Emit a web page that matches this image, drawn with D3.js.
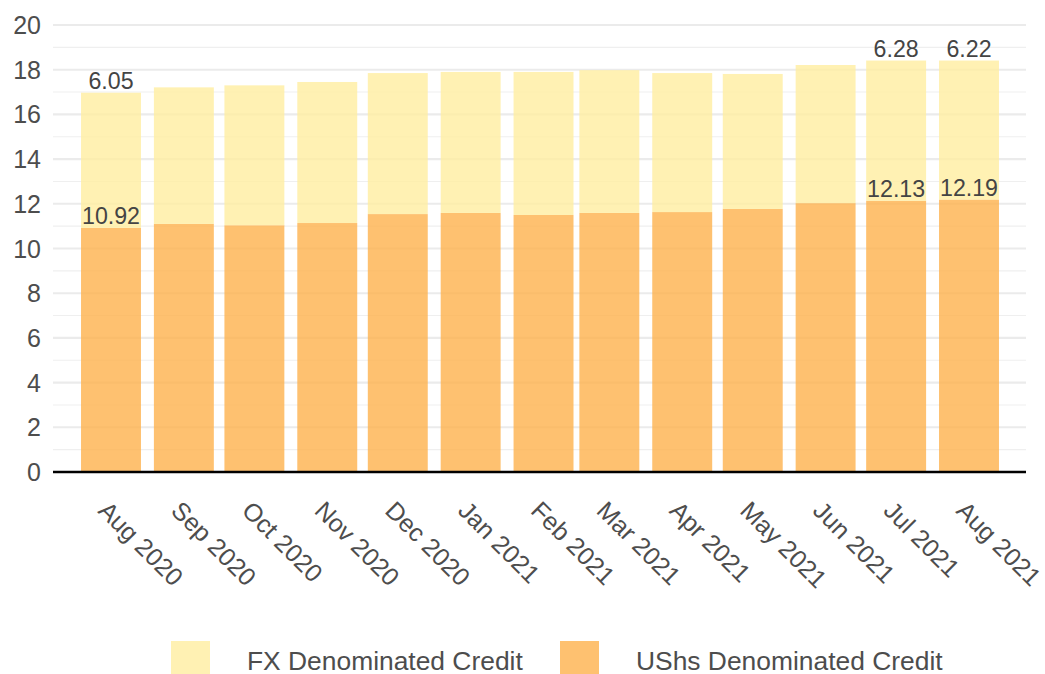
<!DOCTYPE html>
<html>
<head>
<meta charset="utf-8">
<script src="https://cdn.jsdelivr.net/npm/d3@7"></script>
<style>
  html, body { margin: 0; padding: 0; background: #fff; }
  svg { display: block; font-family: "Liberation Sans", Arial, sans-serif; }
</style>
</head>
<body>
<svg id="chart" width="1045" height="674"></svg>
<script>
// ---- data ----
const months = ["2020-08", "2020-09", "2020-10", "2020-11", "2020-12", "2021-01", "2021-02",
                "2021-03", "2021-04", "2021-05", "2021-06", "2021-07", "2021-08"];
const monthLabels = ["Aug 2020", "Sep 2020", "Oct 2020", "Nov 2020", "Dec 2020", "Jan 2021", "Feb 2021",
                     "Mar 2021", "Apr 2021", "May 2021", "Jun 2021", "Jul 2021", "Aug 2021"];
const ushsCredit = [10.92, 11.10, 11.04, 11.14, 11.54, 11.59, 11.50, 11.59, 11.63, 11.77, 12.03, 12.13, 12.19];
const fxCredit   = [6.05, 6.11, 6.26, 6.31, 6.31, 6.31, 6.40, 6.39, 6.22, 6.04, 6.18, 6.28, 6.22];
const labelledIdx = [0, 11, 12];
const yTicks = [0, 2, 4, 6, 8, 10, 12, 14, 16, 18, 20];
const seriesNames = ["FX Denominated Credit", "UShs Denominated Credit"];

// ---- layout ----
const colors = { fx: "#FFEDA0", ushs: "#FEB24C" };
const barOpacity = 0.8;
const plotLeft = 53, plotRight = 1026, yBottom = 472, yTop = 25;
const parse = d3.timeParse("%Y-%m");
const dates = months.map(parse);

const x = d3.scaleTime().domain([dates[0], dates[dates.length - 1]]).range([111, 969]);
const y = d3.scaleLinear().domain([0, 20]).range([yBottom, yTop]);
const dayPx = (x(dates[dates.length - 1]) - x(dates[0])) / 365;
const barW = 25.5 * dayPx;

const svg = d3.select("#chart");
const textColor = "#4d4d4d";

// gridlines
const minor = d3.range(1, 20, 2);
svg.append("g").selectAll("line").data(minor).join("line")
  .attr("x1", plotLeft).attr("x2", plotRight)
  .attr("y1", d => y(d)).attr("y2", d => y(d))
  .attr("stroke", "#efefef").attr("stroke-width", 1.1);
svg.append("g").selectAll("line").data(yTicks.filter(d => d > 0)).join("line")
  .attr("x1", plotLeft).attr("x2", plotRight)
  .attr("y1", d => y(d)).attr("y2", d => y(d))
  .attr("stroke", "#ebebeb").attr("stroke-width", 2.1);

// data rows
const rows = dates.map((d, i) => ({ date: d, label: monthLabels[i], ushs: ushsCredit[i], fx: fxCredit[i], i }));

// bars
const gBars = svg.append("g");
gBars.selectAll("rect.ushs").data(rows).join("rect")
  .attr("class", "ushs")
  .attr("x", d => x(d.date) - barW / 2).attr("width", barW)
  .attr("y", d => y(d.ushs)).attr("height", d => y(0) - y(d.ushs))
  .attr("fill", colors.ushs).attr("fill-opacity", barOpacity);
gBars.selectAll("rect.fx").data(rows).join("rect")
  .attr("class", "fx")
  .attr("x", d => x(d.date) - barW / 2).attr("width", barW)
  .attr("y", d => y(d.ushs + d.fx)).attr("height", d => y(d.ushs) - y(d.ushs + d.fx))
  .attr("fill", colors.fx).attr("fill-opacity", barOpacity);

// value labels
const lab = rows.filter(d => labelledIdx.includes(d.i));
const gLab = svg.append("g").attr("font-size", 23.2).attr("fill", "#444").attr("text-anchor", "middle");
gLab.selectAll("text.u").data(lab).join("text")
  .attr("x", d => x(d.date)).attr("y", d => y(d.ushs) - 4)
  .text(d => d.ushs.toFixed(2));
gLab.selectAll("text.f").data(lab).join("text")
  .attr("x", d => x(d.date)).attr("y", d => y(d.ushs + d.fx) - 4)
  .text(d => d.fx.toFixed(2));

// zero axis line
svg.append("line")
  .attr("x1", plotLeft).attr("x2", plotRight)
  .attr("y1", y(0)).attr("y2", y(0))
  .attr("stroke", "#000").attr("stroke-width", 2.6);

// y tick labels
svg.append("g").selectAll("text").data(yTicks).join("text")
  .attr("x", 41).attr("y", d => y(d)).attr("dy", "0.36em")
  .attr("text-anchor", "end").attr("font-size", 25).attr("fill", textColor)
  .text(d => d);

// x tick labels (rotated)
svg.append("g").selectAll("text").data(rows).join("text")
  .attr("transform", d => `translate(${x(d.date) - 14},${y(0) + 40}) rotate(45)`)
  .attr("text-anchor", "start").attr("font-size", 25).attr("fill", textColor)
  .text(d => d.label);

// legend
const legend = [
  { name: seriesNames[0], color: colors.fx, sx: 171, tx: 247 },
  { name: seriesNames[1], color: colors.ushs, sx: 560, tx: 636 }
];
const gLeg = svg.append("g");
gLeg.selectAll("rect").data(legend).join("rect")
  .attr("x", d => d.sx).attr("y", 641).attr("width", 39).attr("height", 39)
  .attr("fill", d => d.color).attr("fill-opacity", barOpacity);
gLeg.selectAll("text").data(legend).join("text")
  .attr("x", d => d.tx).attr("y", 669.5)
  .attr("font-size", 26.4).attr("fill", textColor)
  .text(d => d.name);
</script>
</body>
</html>
